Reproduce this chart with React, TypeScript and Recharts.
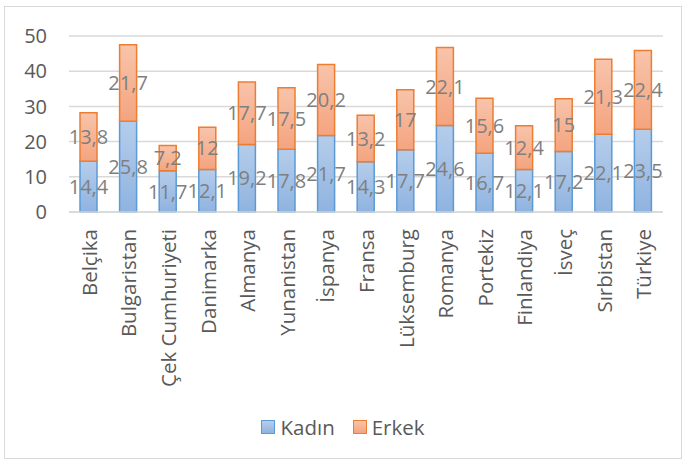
import { BarChart, Bar, XAxis, YAxis, CartesianGrid, LabelList } from "recharts";

const countries = [
  "Belçika",
  "Bulgaristan",
  "Çek Cumhuriyeti",
  "Danimarka",
  "Almanya",
  "Yunanistan",
  "İspanya",
  "Fransa",
  "Lüksemburg",
  "Romanya",
  "Portekiz",
  "Finlandiya",
  "İsveç",
  "Sırbistan",
  "Türkiye",
];
const kadin = [14.4, 25.8, 11.7, 12.1, 19.2, 17.8, 21.7, 14.3, 17.7, 24.6, 16.7, 12.1, 17.2, 22.1, 23.5];
const erkek = [13.8, 21.7, 7.2, 12, 17.7, 17.5, 20.2, 13.2, 17, 22.1, 15.6, 12.4, 15, 21.3, 22.4];
const yTicks = [0, 10, 20, 30, 40, 50];

const data = countries.map((name, i) => ({ name, kadin: kadin[i], erkek: erkek[i] }));

const FONT = "'Open Sans', sans-serif";
const fmt = (v: any) => String(v).replace(".", ",");

const XTick = (props: any) => {
  const { x, y, payload } = props;
  return (
    <text
      x={x}
      y={y}
      transform={`rotate(-90, ${x}, ${y})`}
      textAnchor="end"
      dominantBaseline="central"
      fill="#595959"
      fontSize={20.5}
      fontFamily={FONT}
    >
      {payload.value}
    </text>
  );
};

const App = () => {
  return (
    <div style={{ position: "absolute", left: 0, top: 0, width: 686, height: 463, background: "#fff" }}>
      <div
        style={{
          position: "absolute",
          left: 4,
          top: 6,
          width: 676,
          height: 451,
          border: "1.5px solid #d9d9d9",
        }}
      />
      <BarChart
        width={686}
        height={463}
        data={data}
        margin={{ top: 36, right: 23, left: 0, bottom: 0 }}
        style={{ position: "absolute", left: 0, top: 0 }}
      >
        <defs>
          <linearGradient id="gBlue" x1="0" y1="0" x2="0" y2="1">
            <stop offset="0%" stopColor="#b5cdeb" />
            <stop offset="100%" stopColor="#8fb3e0" />
          </linearGradient>
          <linearGradient id="gOrange" x1="0" y1="0" x2="0" y2="1">
            <stop offset="0%" stopColor="#f8c4ab" />
            <stop offset="100%" stopColor="#f4a47f" />
          </linearGradient>
        </defs>
        <CartesianGrid vertical={false} stroke="#d9d9d9" strokeWidth={1.5} />
        <XAxis
          dataKey="name"
          interval={0}
          height={251}
          axisLine={{ stroke: "#d9d9d9", strokeWidth: 1.5 }}
          tickLine={false}
          tick={<XTick />}
          tickMargin={11}
        />
        <YAxis
          domain={[0, 50]}
          ticks={yTicks}
          width={69}
          axisLine={false}
          tickLine={false}
          tickSize={0}
          tickMargin={22}
          tick={{ fill: "#595959", fontSize: 20, fontFamily: FONT }}
        />
        <Bar
          dataKey="kadin"
          stackId="a"
          barSize={17}
          fill="url(#gBlue)"
          stroke="#5b9bd5"
          strokeWidth={1.5}
          isAnimationActive={false}
        >
          <LabelList
            dataKey="kadin"
            position="center"
            formatter={fmt}
            fill="#7f7f7f"
            fontSize={20}
            fontFamily={FONT}
          />
        </Bar>
        <Bar
          dataKey="erkek"
          stackId="a"
          barSize={17}
          fill="url(#gOrange)"
          stroke="#ed7d31"
          strokeWidth={1.5}
          isAnimationActive={false}
        >
          <LabelList
            dataKey="erkek"
            position="center"
            formatter={fmt}
            fill="#7f7f7f"
            fontSize={20}
            fontFamily={FONT}
          />
        </Bar>
      </BarChart>
      <div
        style={{
          position: "absolute",
          top: 413,
          left: 0,
          width: 686,
          display: "flex",
          justifyContent: "center",
          alignItems: "center",
          fontFamily: FONT,
          fontSize: 20.5,
          color: "#595959",
        }}
      >
        <span style={{ display: "inline-flex", alignItems: "center", marginRight: 18 }}>
          <span
            style={{
              width: 12,
              height: 12,
              background: "linear-gradient(#b5cdeb, #8fb3e0)",
              border: "1.5px solid #5b9bd5",
              marginRight: 5,
            }}
          />
          Kadın
        </span>
        <span style={{ display: "inline-flex", alignItems: "center" }}>
          <span
            style={{
              width: 12,
              height: 12,
              background: "linear-gradient(#f8c4ab, #f4a47f)",
              border: "1.5px solid #ed7d31",
              marginRight: 5,
            }}
          />
          Erkek
        </span>
      </div>
    </div>
  );
};

export default App;
